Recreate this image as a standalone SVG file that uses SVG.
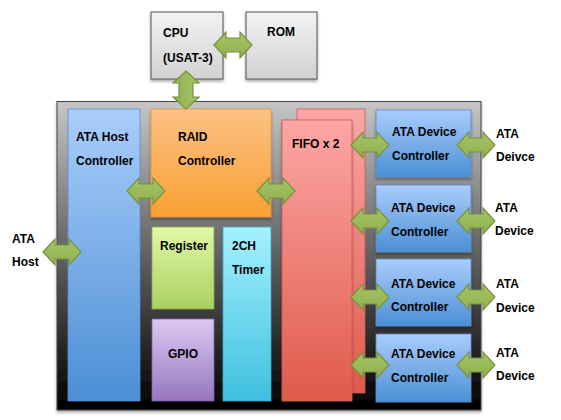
<svg xmlns="http://www.w3.org/2000/svg" width="561" height="420" viewBox="0 0 561 420">
<defs>
<linearGradient id="gCont" x1="0" y1="0" x2="0" y2="1"><stop offset="0" stop-color="#c6c6c6"/><stop offset="0.45" stop-color="#6a6a6a"/><stop offset="1" stop-color="#000"/></linearGradient>
<linearGradient id="gGray" x1="0" y1="0" x2="0" y2="1"><stop offset="0" stop-color="#f2f2f2"/><stop offset="1" stop-color="#d2d2d2"/></linearGradient>
<linearGradient id="gBlue" x1="0" y1="0" x2="0" y2="1"><stop offset="0" stop-color="#aacdfb"/><stop offset="1" stop-color="#4b8fd5"/></linearGradient>
<linearGradient id="gOrange" x1="0" y1="0" x2="0" y2="1"><stop offset="0" stop-color="#fdc185"/><stop offset="1" stop-color="#f9a032"/></linearGradient>
<linearGradient id="gRed" x1="0" y1="0" x2="0" y2="1"><stop offset="0" stop-color="#fca6a5"/><stop offset="1" stop-color="#e05a4b"/></linearGradient>
<linearGradient id="gGreen" x1="0" y1="0" x2="0" y2="1"><stop offset="0" stop-color="#e2f8a6"/><stop offset="1" stop-color="#a9cf62"/></linearGradient>
<linearGradient id="gPurple" x1="0" y1="0" x2="0" y2="1"><stop offset="0" stop-color="#dcc8f2"/><stop offset="1" stop-color="#9677bf"/></linearGradient>
<linearGradient id="gCyan" x1="0" y1="0" x2="0" y2="1"><stop offset="0" stop-color="#a4f1fd"/><stop offset="1" stop-color="#3ec0df"/></linearGradient>
<linearGradient id="gArrow" x1="0" y1="0" x2="0" y2="1"><stop offset="0" stop-color="#a6c466"/><stop offset="1" stop-color="#8fb050"/></linearGradient>
<filter id="sh" x="-10%" y="-10%" width="130%" height="130%"><feDropShadow dx="0" dy="2" stdDeviation="1.5" flood-color="#000" flood-opacity="0.35"/></filter>
<path id="dblArrow" d="M-19,0 L-7,-13 L-7,-7 L7,-7 L7,-13 L19,0 L7,13 L7,7 L-7,7 L-7,13 Z"/>
</defs>
<style>
text{font-family:"Liberation Sans",Arial,Helvetica,sans-serif;font-weight:bold;font-size:12px;fill:#000}
.box{filter:url(#sh)}
.arrow{fill:url(#gArrow);stroke:#77923f;stroke-width:1.2}
</style>
<rect width="561" height="420" fill="#fff"/>
<g id="container"><rect x="57" y="101.5" width="424" height="308.5" fill="url(#gCont)" stroke="#444" stroke-width="1" class="box"/></g>
<g id="cpu"><rect x="151" y="12" width="72" height="67" fill="url(#gGray)" stroke="#555" class="box"/><text x="163" y="37">CPU</text><text x="163" y="62">(USAT-3)</text></g>
<g id="rom"><rect x="246" y="12" width="71" height="67" fill="url(#gGray)" stroke="#555" class="box"/><text x="267" y="36">ROM</text></g>
<g id="ata-host-controller"><rect x="68" y="109" width="72" height="292" fill="url(#gBlue)" stroke="#5a8cc4" stroke-width="0.8"/><text x="76" y="141">ATA Host</text><text x="76" y="165">Controller</text></g>
<g id="raid-controller"><rect x="151" y="109" width="120" height="108" fill="url(#gOrange)" stroke="#e0963c" stroke-width="0.8" class="box"/><text x="178" y="141">RAID</text><text x="178" y="165">Controller</text></g>
<g id="fifo"><rect x="297" y="109" width="68" height="284" fill="url(#gRed)" stroke="#c85a50" stroke-width="0.8"/><rect x="282" y="120" width="70" height="281" fill="url(#gRed)" stroke="#c85a50" stroke-width="0.8" class="box"/><text x="292" y="148">FIFO x 2</text></g>
<g id="register"><rect x="152" y="227" width="62" height="82" fill="url(#gGreen)" stroke="#8aa850" stroke-width="0.8"/><text x="160" y="250">Register</text></g>
<g id="gpio"><rect x="152" y="319" width="62" height="82" fill="url(#gPurple)" stroke="#7d64a8" stroke-width="0.8"/><text x="183" y="358" text-anchor="middle">GPIO</text></g>
<g id="timer"><rect x="223" y="227" width="48" height="174" fill="url(#gCyan)" stroke="#3aa8c8" stroke-width="0.8"/><text x="232" y="250">2CH</text><text x="232" y="274">Timer</text></g>
<g id="ata-device-controller-1"><rect x="376" y="110" width="95" height="67" fill="url(#gBlue)" stroke="#5a8cc4" stroke-width="0.8" class="box"/><text x="392" y="136">ATA Device</text><text x="392" y="160">Controller</text></g>
<g id="ata-device-controller-2"><rect x="376" y="185" width="95" height="67" fill="url(#gBlue)" stroke="#5a8cc4" stroke-width="0.8" class="box"/><text x="391" y="211.5">ATA Device</text><text x="391" y="236">Controller</text></g>
<g id="ata-device-controller-3"><rect x="376" y="259" width="95" height="67" fill="url(#gBlue)" stroke="#5a8cc4" stroke-width="0.8" class="box"/><text x="391" y="287.5">ATA Device</text><text x="391" y="311">Controller</text></g>
<g id="ata-device-controller-4"><rect x="376" y="334" width="95" height="68" fill="url(#gBlue)" stroke="#5a8cc4" stroke-width="0.8" class="box"/><text x="391" y="358">ATA Device</text><text x="391" y="382">Controller</text></g>
<g id="ata-host-label"><text x="12" y="243">ATA</text><text x="12" y="266">Host</text></g>
<g id="ata-device-label-1"><text x="496" y="138">ATA</text><text x="496" y="161">Deivce</text></g>
<g id="ata-device-label-2"><text x="495" y="211.5">ATA</text><text x="495" y="235">Device</text></g>
<g id="ata-device-label-3"><text x="496" y="288">ATA</text><text x="496" y="312">Device</text></g>
<g id="ata-device-label-4"><text x="496" y="356.5">ATA</text><text x="496" y="380">Device</text></g>
<g id="connectors">
<use href="#dblArrow" class="arrow" transform="translate(233,45)"/>
<use href="#dblArrow" class="arrow" transform="translate(186,90) rotate(90)"/>
<use href="#dblArrow" class="arrow" transform="translate(146,191)"/>
<use href="#dblArrow" class="arrow" transform="translate(276,191)"/>
<use href="#dblArrow" class="arrow" transform="translate(62,252)"/>
<use href="#dblArrow" class="arrow" transform="translate(370,145)"/>
<use href="#dblArrow" class="arrow" transform="translate(370,221)"/>
<use href="#dblArrow" class="arrow" transform="translate(370,297)"/>
<use href="#dblArrow" class="arrow" transform="translate(370,365)"/>
<use href="#dblArrow" class="arrow" transform="translate(476,145)"/>
<use href="#dblArrow" class="arrow" transform="translate(476,221)"/>
<use href="#dblArrow" class="arrow" transform="translate(476,297)"/>
<use href="#dblArrow" class="arrow" transform="translate(476,365)"/>
</g>
</svg>
